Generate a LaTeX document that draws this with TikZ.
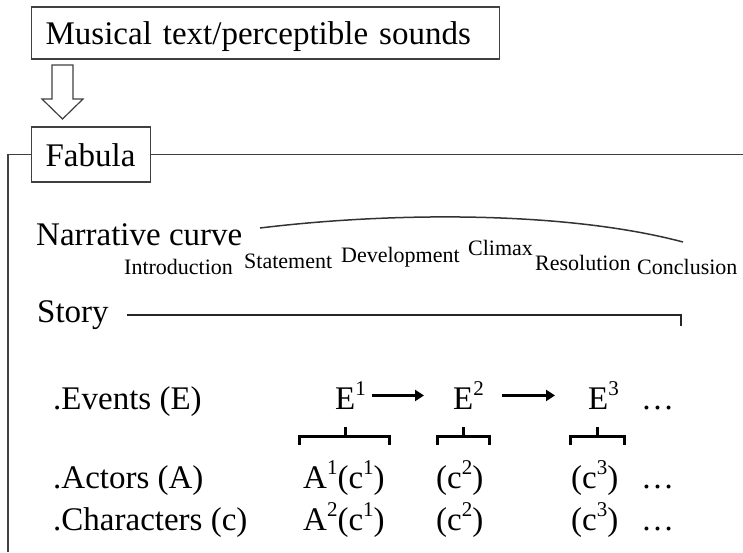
\documentclass[tikz,border=0pt]{standalone}
\usepackage{fontspec}
\setmainfont{Liberation Serif}
\usetikzlibrary{arrows.meta}
\newcommand\mysup[1]{\raisebox{0.40em}{\fontsize{21}{21}\selectfont #1}}
\begin{document}
\begin{tikzpicture}[x=1pt,y=-1pt,
  big/.style={font=\fontsize{33}{40}\selectfont, inner sep=0pt, anchor=base west},
  small/.style={font=\fontsize{22}{26}\selectfont, inner sep=0pt, anchor=base west},
  boxst/.style={draw=black!75, line width=1.2pt, font=\fontsize{33}{40}\selectfont,
    anchor=base west, inner xsep=14pt, inner ysep=11pt, align=left},
  frameline/.style={draw=black!75, line width=1.2pt},
  curveline/.style={draw=black!80, line width=1.5pt},
  storyline/.style={draw=black!85, line width=1.7pt},
  brk/.style={draw=black, line width=3pt},
  evarrow/.style={draw=black, line width=2.8pt, -{Triangle[length=9pt,width=11pt]}},
]
\useasboundingbox (0,0) rectangle (743,552);

% top box and Fabula box
\node[boxst, text width=440pt, text height=26pt, text depth=4pt] (src) at (31,44) {Musical text/perceptible sounds};
\node[boxst, text width=91pt, text height=28pt, text depth=5pt] (fab) at (31,166) {Fabula};

% hollow arrow
\draw[frameline, fill=white, line join=miter] (52,65) -- (73,65) -- (73,99) -- (83,99) -- (62.5,119) -- (42,99) -- (52,99) -- cycle;

% frame
\coordinate (frR) at (743,0);
\coordinate (frB) at (8,552);
\draw[frameline] (fab.east) -- (fab.east -| frR);
\draw[frameline] (fab.west) -- (fab.west -| frB) -- (frB);

% narrative curve
\node[big] (nc) at (36,245) {Narrative curve};
\coordinate (cs) at (260,228);
\coordinate (ce) at (683,242);
\draw[curveline] (cs) .. controls (400,211) and (570,212) .. (ce);
\node[small] (intro) at (124,274) {Introduction};
\node[small] (stat) at (244,268) {Statement};
\node[small] (dev) at (341,262) {Development};
\node[small] (cli) at (468,255) {Climax};
\node[small] (res) at (535,270) {Resolution};
\node[small] (con) at (637,274) {Conclusion};

% story
\node[big] (story) at (37,322) {Story};
\coordinate (ss) at (127,315);
\coordinate (se) at (681,315);
\coordinate (st) at (681,326);
\draw[storyline] (ss) -- (se) -- (st);

% events
\node[big] (evl) at (53,409) {.Events (E)};
\node[big] (e1) at (335,409) {E\mysup{1}};
\node[big] (e2) at (453,409) {E\mysup{2}};
\node[big] (e3) at (588,409) {E\mysup{3}};
\node[big] (edots) at (641,409) {…};
\draw[evarrow, shorten <=6pt, shorten >=29pt] (e1.east) -- (e2.west);
\draw[evarrow, shorten <=18pt, shorten >=33pt] (e2.east) -- (e3.west);

% brackets
\draw[brk] (299,445) -- (299,436) -- (389,436) -- (389,445) (345,436) -- (345,427);
\draw[brk] (437,445) -- (437,436) -- (489,436) -- (489,445) (463,436) -- (463,427);
\draw[brk] (570,445) -- (570,436) -- (624,436) -- (624,445) (597,436) -- (597,427);

% actors / characters
\node[big] (acl) at (53,488) {.Actors (A)};
\node[big] (a1) at (303,488) {A\mysup{1}(c\mysup{1})};
\node[big] (a2) at (436,488) {(c\mysup{2})};
\node[big] (a3) at (571,488) {(c\mysup{3})};
\node[big] (adots) at (641,488) {…};
\node[big] (chl) at (53,530) {.Characters (c)};
\node[big] (c1) at (303,530) {A\mysup{2}(c\mysup{1})};
\node[big] (c2) at (436,530) {(c\mysup{2})};
\node[big] (c3) at (571,530) {(c\mysup{3})};
\node[big] (cdots) at (641,530) {…};
\end{tikzpicture}
\end{document}
